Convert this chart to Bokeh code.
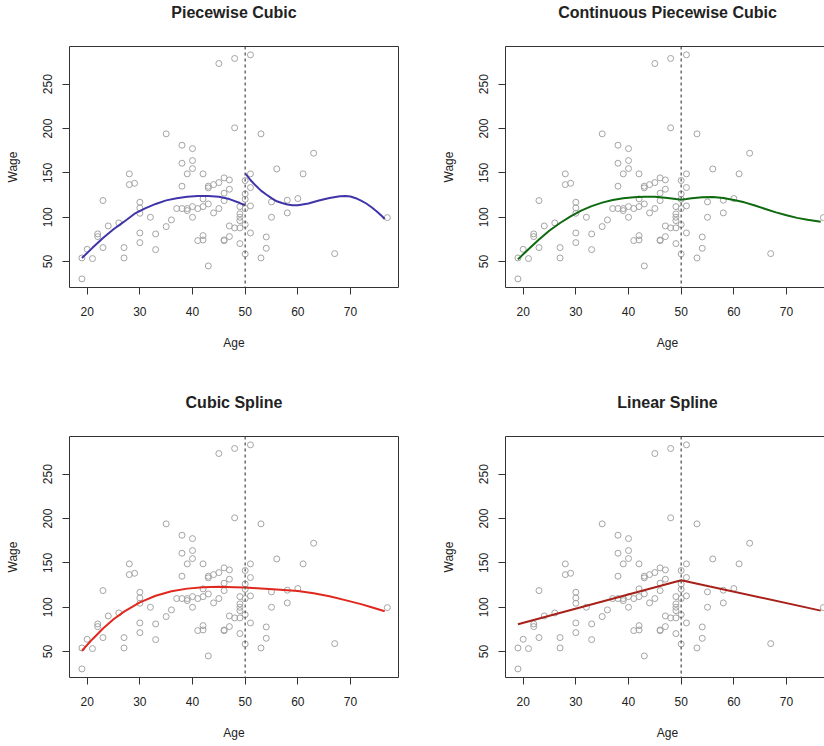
import numpy as np
from bokeh.plotting import figure
from bokeh.models import Span, FixedTicker, Range1d, Title
from bokeh.layouts import column, row
from bokeh.embed import file_html
from bokeh.resources import INLINE

# ---------------- data ----------------
age = [19, 19, 20, 21, 22, 22, 23, 23, 24, 26, 27, 27, 28, 28, 29,
       30, 30, 30, 30, 30, 32, 33, 33, 35, 35, 36, 37,
       38, 38, 38, 38, 39, 39, 39, 40, 40, 40, 40, 40, 41, 41,
       42, 42, 42, 42, 42, 43, 43, 43, 43, 44, 44, 45, 45, 45,
       46, 46, 46, 46, 46, 47, 47, 47, 47, 48, 48, 48,
       49, 49, 49, 49, 49, 49, 50, 50, 50, 50, 50, 50,
       51, 51, 51, 51, 51, 53, 53, 54, 54, 55, 55, 56, 58, 58,
       60, 61, 63, 67, 77]
wage = [30.5, 54.1, 63.9, 53.4, 81.2, 78.2, 118.8, 65.8, 90.2, 93.6, 65.8, 54.1, 148.9, 136.8, 138.3,
        116.9, 110.5, 104.5, 82.3, 71.4, 100.0, 81.2, 63.5, 194.0, 89.5, 97.0, 109.8,
        181.2, 160.9, 135.0, 109.8, 148.9, 109.8, 107.5, 177.4, 163.9, 154.9, 112.0, 100.0, 109.8, 73.7,
        148.9, 120.7, 112.0, 79.3, 74.4, 135.0, 133.1, 115.0, 45.1, 136.8, 104.9, 273.3, 139.1, 109.8,
        144.4, 127.1, 118.8, 74.4, 73.6, 142.1, 131.6, 90.2, 78.2, 279.0, 200.8, 88.0,
        112.0, 103.8, 100.0, 96.2, 88.0, 70.3, 141.4, 126.3, 120.3, 109.8, 91.7, 58.6,
        283.1, 148.9, 133.5, 112.8, 82.3, 194.0, 54.1, 77.8, 65.0, 117.3, 100.0, 154.5, 119.2, 104.9,
        121.1, 148.9, 172.2, 59.0, 99.6]

knot = 50

# Piecewise cubic (two separate pieces)
pc_left_age = [19, 21, 23, 25, 27, 29, 31, 33, 35, 37, 39, 41, 43, 45, 47, 49, 50]
pc_left_wage = [54.0, 65.5, 76.5, 86.5, 95.0, 104.0, 110.0, 115.0, 119.0, 121.5, 123.0, 124.0,
                124.0, 123.0, 120.5, 116.0, 113.5]
pc_right_age = [50, 51, 52, 53, 54, 55, 56, 57, 58, 59, 60, 62, 64, 66, 68, 69, 70, 71, 72,
                73, 74, 75, 76, 76.5]
pc_right_wage = [149.6, 142.0, 135.7, 130.0, 125.6, 121.5, 118.0, 116.0, 114.3, 113.6, 113.5,
                 115.5, 118.8, 121.8, 123.7, 124.0, 123.3, 121.5, 118.8, 115.5, 111.3, 106.5,
                 101.1, 98.0]

# Continuous piecewise cubic
cpc_age = [19, 21, 23, 25, 27, 29, 31, 33, 35, 37, 39, 41, 43, 45, 47, 49, 50, 51, 52, 54,
           56, 58, 60, 62, 64, 66, 68, 70, 72, 74, 76.5]
cpc_wage = [52.5, 64.0, 75.0, 85.0, 93.5, 101.0, 107.5, 112.5, 116.5, 119.5, 121.5, 122.5,
            123.0, 123.0, 122.0, 120.5, 119.8, 120.5, 121.5, 122.6, 122.9, 121.8, 119.5,
            116.8, 113.2, 109.3, 105.5, 102.2, 99.3, 97.2, 95.0]

# Cubic spline
cs_age = [19, 21, 23, 25, 27, 30, 33, 36, 39, 42, 45, 48, 50, 53, 56, 60, 63, 66, 69, 72,
          74, 76.5]
cs_wage = [51.0, 64.0, 76.0, 86.5, 95.0, 105.5, 113.0, 118.0, 121.0, 122.5, 123.0, 122.6,
           122.2, 121.2, 120.1, 118.4, 115.8, 112.5, 108.0, 103.5, 100.0, 95.5]

# Linear spline
ls_age = [19, 50, 76.5]
ls_wage = [80.8, 130.5, 96.2]

x_ticks = [20, 30, 40, 50, 60, 70]
y_ticks = [50, 100, 150, 200, 250]

# ---------------- styling ----------------
FONT = "Liberation Sans"
TXT = "#222222"
PT_COLOR = "#A4A4A4"
FRAME_W_LEFT = 329
FRAME_W_RIGHT = 324
FRAME_H = 241
PX_PER_YEAR = 5.266
X_START = 16.64
Y_START, Y_END = 20.8, 292.5


def panel(title, left_border, frame_w, border_right, top_border, border_bottom, x_end,
          title_offset=0):
    p = figure(frame_width=frame_w, frame_height=FRAME_H, title=None,
               min_border_left=left_border, min_border_right=border_right,
               min_border_top=top_border, min_border_bottom=border_bottom,
               x_range=Range1d(X_START, x_end), y_range=Range1d(Y_START, Y_END),
               output_backend="svg", toolbar_location=None, tools="")
    p.xgrid.visible = False
    p.ygrid.visible = False
    p.outline_line_color = "#333333"
    p.outline_line_width = 1
    p.background_fill_color = "white"
    p.border_fill_color = "white"

    for ax in (p.xaxis[0], p.yaxis[0]):
        ax.axis_line_color = None
        ax.major_tick_in = 0
        ax.major_tick_out = 7
        ax.major_tick_line_color = "#333333"
        ax.minor_tick_line_color = None
        ax.major_label_text_font = FONT
        ax.major_label_text_font_size = "12px"
        ax.major_label_text_color = TXT
        ax.axis_label_text_font = FONT
        ax.axis_label_text_font_size = "12px"
        ax.axis_label_text_font_style = "normal"
        ax.axis_label_text_color = TXT

    p.xaxis.ticker = FixedTicker(ticks=x_ticks)
    p.yaxis.ticker = FixedTicker(ticks=y_ticks)
    p.xaxis.axis_label = "Age"
    p.yaxis.axis_label = "Wage"
    p.xaxis.major_label_standoff = 12
    p.xaxis.axis_label_standoff = 17
    p.yaxis.major_label_standoff = 10
    p.yaxis.major_label_orientation = "vertical"
    p.yaxis.axis_label_standoff = 21

    p.scatter(age, wage, marker="circle", size=6, fill_color=None,
              line_color=PT_COLOR, line_width=1)
    p.add_layout(Span(location=knot, dimension="height", line_color="#555555",
                      line_dash="3 3", line_width=1.3))

    # spacer between plot box and title, then the title itself
    p.add_layout(Title(text=" ", text_font_size="10px", standoff=13), "above")
    p.add_layout(Title(text=title, align="center", text_font=FONT,
                       text_font_size="16px", text_font_style="bold",
                       text_color=TXT, standoff=0, offset=title_offset), "above")
    return p


x_end_left = X_START + FRAME_W_LEFT / PX_PER_YEAR
x_end_right = X_START + FRAME_W_RIGHT / PX_PER_YEAR

p1 = panel("Piecewise Cubic", 69, FRAME_W_LEFT, 40, 46, 103, x_end_left)
p1.line(pc_left_age, pc_left_wage, line_color="#3F35A8", line_width=2)
p1.line(pc_right_age, pc_right_wage, line_color="#3F35A8", line_width=2)

p2 = panel("Continuous Piecewise Cubic", 61, FRAME_W_RIGHT, 0, 46, 103, x_end_right)
p2.line(cpc_age, cpc_wage, line_color="#0E6A0E", line_width=2)

p3 = panel("Cubic Spline", 69, FRAME_W_LEFT, 40, 46, 66, x_end_left)
p3.line(cs_age, cs_wage, line_color="#E0281E", line_width=2)

p4 = panel("Linear Spline", 61, FRAME_W_RIGHT, 0, 46, 66, x_end_right)
p4.line(ls_age, ls_wage, line_color="#A8201A", line_width=2)

layout = column(row(p1, p2), row(p3, p4))

open("out.html", "w").write(file_html(layout, INLINE))
